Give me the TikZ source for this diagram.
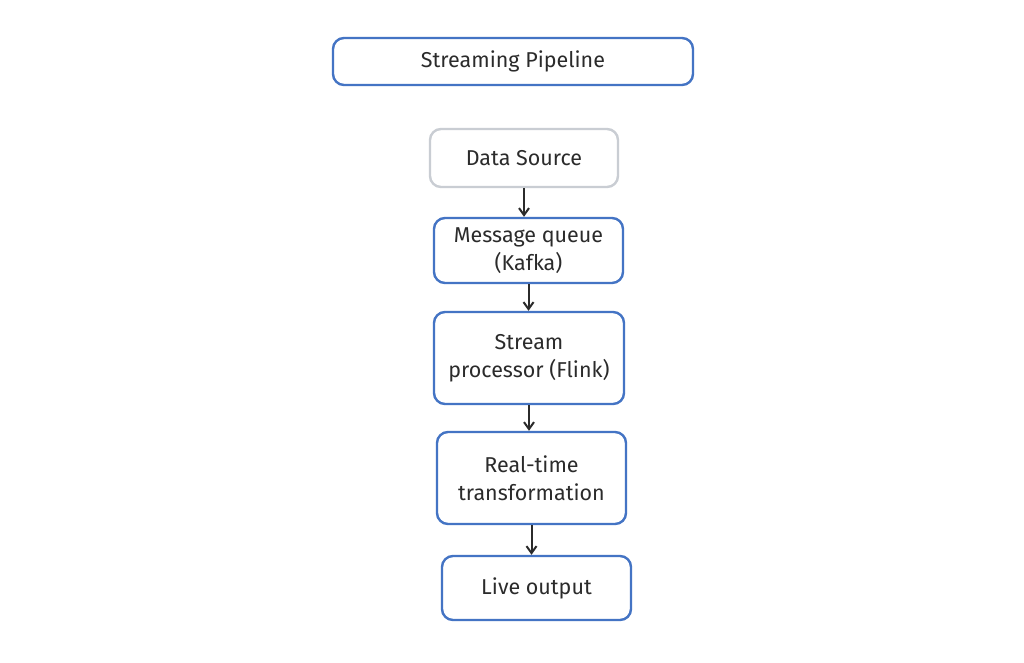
\documentclass[tikz,border=0pt]{standalone}
\usepackage{fontspec}
\setmainfont{Fira Sans}
\usetikzlibrary{arrows.meta}
\definecolor{boxblue}{HTML}{4474C4}
\definecolor{boxgray}{HTML}{C9CDD3}
\definecolor{ink}{HTML}{2B2B2B}
\tikzset{
  box/.style={draw=boxblue, line width=2.4pt, rounded corners=11pt, fill=white,
    align=center, inner sep=0pt, text=ink, font=\fontsize{21.5}{28}\selectfont},
  graybox/.style={box, draw=boxgray},
  arr/.style={draw=ink, line width=2pt, -{Straight Barb[length=7pt,width=10pt]}}
}
\begin{document}
\begin{tikzpicture}[x=1pt,y=-1pt]
\useasboundingbox[fill=white] (0,0) rectangle (1024,663);
\node[box, minimum width=360pt, minimum height=47pt] (title) at (513,61.5) {Streaming Pipeline};
\node[graybox, minimum width=188pt, minimum height=58pt] (src) at (524,158) {Data Source};
\node[box, minimum width=189pt, minimum height=65pt] (mq) at (528.5,250.5) {Message queue\\(Kafka)};
\node[box, minimum width=190pt, minimum height=92pt] (sp) at (529,358) {Stream\\processor (Flink)};
\node[box, minimum width=189pt, minimum height=92pt] (rt) at (531.5,478) {Real-time\\transformation};
\node[box, minimum width=189pt, minimum height=64pt] (out) at (536.5,588) {Live output};
\draw[arr] (src.south) -- (src.south |- mq.north);
\draw[arr] (mq.south) -- (mq.south |- sp.north);
\draw[arr] (sp.south) -- (sp.south |- rt.north);
\draw[arr] (rt.south) -- (rt.south |- out.north);
\end{tikzpicture}
\end{document}
